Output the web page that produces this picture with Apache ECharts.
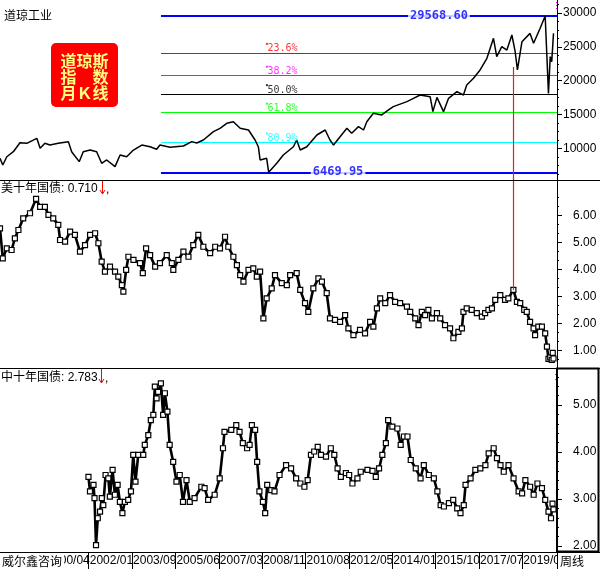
<!DOCTYPE html>
<html><head><meta charset="utf-8">
<script src="https://cdn.jsdelivr.net/npm/echarts@6/dist/echarts.min.js"></script>
<style>html,body{margin:0;padding:0;background:#fff}#c{width:600px;height:569px}</style>
</head><body><div id="c"></div>
<script>
// ---------- data ----------
const xTickLabels = ['1998/08','2000/04','2002/01','2003/09','2005/06','2007/03','2008/11','2010/08','2012/05','2014/01','2015/10','2017/07','2019/04'];
const dowTicks = [10000,15000,20000,25000,30000];
const usTicks = [1,2,3,4,5,6];
const cnTicks = [2,3,4,5];

const dowDates = [1998.55,1998.66,1998.82,1999.08,1999.34,1999.61,2000.01,2000.14,2000.33,2000.53,
2000.86,2001.26,2001.39,2001.69,2001.85,2002.12,2002.38,2002.58,2002.78,2003.11,
2003.31,2003.57,2003.84,2004.17,2004.50,2004.76,2004.89,2005.29,2005.82,2006.15,
2006.35,2006.61,2007.01,2007.27,2007.54,2007.80,2008.07,2008.40,2008.66,2008.79,
2008.86,2009.12,2009.20,2009.52,2009.78,2010.18,2010.31,2010.45,2010.71,2011.11,
2011.44,2011.63,2011.77,2012.03,2012.30,2012.49,2012.76,2012.96,2013.09,2013.35,
2013.68,2013.95,2014.14,2014.68,2014.94,2015.20,2015.60,2015.71,2015.87,2016.13,
2016.33,2016.66,2016.92,2017.05,2017.32,2017.58,2017.85,2018.11,2018.24,2018.44,
2018.64,2018.84,2018.97,2019.06,2019.24,2019.56,2019.70,2019.96,2020.16,2020.29,
2020.36,2020.42,2020.49];
const dowValues = [8540,7550,8770,9510,10840,10750,11490,10010,10750,10500,
10750,11000,9510,8040,9510,9760,9510,7800,8290,7300,
9020,8770,9760,10500,10250,9870,10500,10160,10350,11000,
10800,11240,12470,12970,13710,13950,12970,12720,11240,10250,
8290,8540,6470,7800,9020,10250,11240,9760,10250,11980,
12720,11240,10500,11730,12970,12230,13220,12720,13950,15190,
14940,15680,16170,16910,17400,17890,17650,15430,17540,15430,
17400,18380,17890,19370,20360,21590,23320,26270,23560,25030,
24540,26760,24290,21590,25770,27000,25530,27750,29568.6,18130,
23560,22820,27000];

const usDates = [1998.55,1998.66,1998.82,1999.01,1999.14,1999.28,1999.47,1999.74,1999.98,2000.14,
2000.33,2000.47,2000.66,2000.86,2000.93,2001.13,2001.33,2001.52,2001.72,2001.92,
2002.12,2002.32,2002.45,2002.58,2002.71,2002.91,2003.11,2003.24,2003.38,2003.44,
2003.55,2003.64,2003.84,2004.10,2004.21,2004.34,2004.50,2004.70,2004.89,2005.16,
2005.36,2005.42,2005.62,2005.82,2006.02,2006.21,2006.41,2006.61,2006.88,2007.08,
2007.27,2007.47,2007.60,2007.80,2007.94,2008.07,2008.20,2008.40,2008.59,2008.73,
2008.86,2008.99,2009.12,2009.32,2009.45,2009.72,2009.92,2010.05,2010.31,2010.45,
2010.64,2010.77,2010.97,2011.17,2011.31,2011.50,2011.63,2011.83,2012.03,2012.23,
2012.36,2012.56,2012.82,2013.02,2013.22,2013.35,2013.49,2013.62,2013.82,2014.01,
2014.21,2014.41,2014.68,2014.81,2015.01,2015.14,2015.27,2015.40,2015.53,2015.67,
2015.87,2016.00,2016.19,2016.39,2016.52,2016.72,2016.86,2016.92,2017.05,2017.25,
2017.45,2017.65,2017.78,2017.91,2018.05,2018.18,2018.38,2018.57,2018.70,2018.90,
2019.04,2019.17,2019.33,2019.43,2019.56,2019.70,2019.76,2019.89,2020.03,2020.16,
2020.23,2020.29,2020.36,2020.42,2020.46,2020.49];
const usValues = [5.53,4.42,4.79,4.73,5.16,5.47,5.90,6.09,6.62,6.33,
6.33,6.03,5.90,5.66,5.10,5.04,5.41,5.29,4.67,4.91,
5.29,5.35,4.98,4.30,3.93,4.11,3.93,3.74,3.43,3.19,
3.99,4.48,4.36,4.24,3.87,4.79,4.54,4.11,4.24,4.54,
4.24,3.99,4.36,4.67,4.48,4.91,5.29,4.85,4.61,4.85,
4.79,5.22,4.85,4.48,4.17,3.80,3.56,3.99,4.05,3.74,
3.93,2.20,2.94,3.31,3.80,3.50,3.43,3.80,3.87,3.25,
2.76,2.44,3.31,3.68,3.56,3.13,2.20,2.14,2.07,2.32,
1.83,1.58,1.77,1.64,2.07,1.89,2.57,2.94,2.76,3.06,
2.81,2.76,2.63,2.44,2.20,1.95,2.44,2.32,2.51,2.20,
2.39,2.20,1.95,1.83,1.46,1.70,1.83,2.44,2.57,2.51,
2.39,2.26,2.39,2.51,2.57,2.88,3.06,2.88,2.94,3.25,
2.81,2.76,2.51,2.44,2.07,1.83,1.58,1.89,1.89,1.64,
1.15,0.70,0.75,0.66,0.92,0.71];

const cnDates = [2001.99,2002.05,2002.19,2002.23,2002.29,2002.36,2002.45,2002.52,2002.58,2002.67,
2002.78,2002.84,2002.95,2003.04,2003.15,2003.24,2003.34,2003.44,2003.57,2003.68,
2003.77,2003.86,2003.97,2004.17,2004.23,2004.37,2004.47,2004.57,2004.63,2004.70,
2004.76,2004.87,2004.96,2005.03,2005.13,2005.22,2005.36,2005.49,2005.62,2005.75,
2005.89,2006.02,2006.21,2006.48,2006.61,2006.75,2007.01,2007.21,2007.34,2007.40,
2007.67,2007.87,2008.00,2008.13,2008.30,2008.40,2008.49,2008.62,2008.70,2008.79,
2008.93,2009.02,2009.10,2009.26,2009.39,2009.59,2009.85,2010.05,2010.25,2010.42,
2010.58,2010.71,2010.84,2010.97,2011.11,2011.24,2011.44,2011.63,2011.77,2011.90,
2012.03,2012.23,2012.36,2012.49,2012.69,2012.82,2013.09,2013.29,2013.42,2013.55,
2013.68,2013.82,2013.91,2014.08,2014.28,2014.41,2014.54,2014.68,2014.81,2015.01,
2015.20,2015.33,2015.53,2015.73,2015.87,2016.00,2016.13,2016.33,2016.50,2016.66,
2016.79,2016.92,2016.99,2017.19,2017.38,2017.58,2017.78,2017.91,2018.11,2018.24,
2018.38,2018.51,2018.70,2018.90,2019.10,2019.24,2019.37,2019.56,2019.70,2019.85,
2020.03,2020.16,2020.29,2020.39,2020.45,2020.49];
const cnValues = [3.47,3.16,3.30,3.02,2.02,2.59,2.73,3.02,2.87,3.51,
3.44,3.05,3.62,3.09,3.30,2.94,2.70,2.94,2.98,3.16,
3.94,3.37,3.94,3.94,4.15,4.36,4.68,4.79,5.39,5.14,
5.28,5.46,4.79,5.25,4.86,4.15,3.79,3.37,3.51,2.94,
3.40,2.94,3.02,3.26,3.23,2.98,3.09,3.44,4.08,4.43,
4.47,4.57,4.43,4.19,4.08,4.15,4.57,4.47,3.79,3.16,
2.94,2.70,3.30,3.19,3.16,3.51,3.72,3.65,3.44,3.33,
3.26,3.40,3.94,4.01,4.11,3.94,3.90,4.08,3.94,3.65,
3.47,3.55,3.51,3.33,3.44,3.58,3.62,3.60,3.47,3.65,
3.94,4.19,4.68,4.54,4.50,4.15,4.33,4.33,3.83,3.65,
3.44,3.72,3.51,3.44,3.16,2.87,2.84,2.91,2.98,2.80,
2.70,2.87,3.30,3.44,3.62,3.65,3.72,3.97,4.08,3.87,
3.72,3.58,3.72,3.44,3.16,3.12,3.40,3.26,3.09,3.33,
3.23,2.98,2.73,2.59,2.90,2.78];

const dowHigh = 29568.60, dowLow = 6469.95;
const fibRatios = [0.236, 0.382, 0.5, 0.618, 0.809];
const fibNames = ['23.6%','38.2%','50.0%','61.8%','80.9%'];
const fibColors = ['#ff0000','#ff00ff','#000000','#00ff00','#00ffff'];
const fibStartDate = 2004.93, fibLabelDate = 2009.13, highLabelDate = 2015.95, lowLabelDate = 2011.95;
const markerDate = 2018.90, markerDowTop = 22030, markerUsValue = 3.25;
const usLast = '0.710', cnLast = '2.783';

// ---------- axes setup ----------
const xMin = 1998.55, weekStep = 90 / 52.1775, xMax = xMin + 1152 / 52.1775;
const sans = '"Liberation Sans", Arial, "Noto Sans CJK SC", sans-serif';
const mono = '"DejaVu Sans Mono", monospace';
const pairs = (d, v) => d.map((x, i) => [x, v[i]]);
const fibVals = fibRatios.map(r => dowHigh - r * (dowHigh - dowLow));

const xFmt = v => {
  const i = Math.round((v - xMin) / weekStep);
  if (Math.abs(v - (xMin + i * weekStep)) > 0.01 || i >= xTickLabels.length) return '';
  return xTickLabels[i];
};

function yAx(grid, min, max, ticks, fmt, margin, minorSplit) {
  return {
    gridIndex: grid, type: 'value', position: 'right', min: min, max: max,
    splitLine: { show: false },
    axisLine: { show: true, lineStyle: { color: '#000', width: 1 } },
    axisTick: { show: true, length: 5, customValues: ticks, lineStyle: { color: '#000' } },
    minorTick: { show: true, splitNumber: minorSplit, length: 2, lineStyle: { color: '#000' } },
    axisLabel: { show: true, customValues: ticks, formatter: fmt, margin: margin,
      color: '#000', fontSize: 12, fontFamily: sans }
  };
}

const bondLine = { color: '#000', width: 2.6 };
const bondItem = { color: '#fff', borderColor: '#000', borderWidth: 1.2 };

const option = {
  animation: false,
  backgroundColor: '#fff',
  grid: [
    { left: 0, top: 0, width: 557, height: 180 },
    { left: 0, top: 180, width: 557, height: 188 },
    { left: 0, top: 368, width: 557, height: 184 }
  ],
  xAxis: [0, 1, 2].map(i => ({
    gridIndex: i, type: 'value', min: xMin, max: xMax, interval: weekStep,
    show: i === 2, splitLine: { show: false },
    axisLine: { show: true, lineStyle: { color: '#000', width: 1 } },
    axisTick: { show: true, length: 17, lineStyle: { color: '#000' } },
    axisLabel: { show: true, formatter: xFmt, align: 'left', margin: 3, padding: [0, 0, 0, 1],
      color: '#000', fontSize: 12, fontFamily: sans }
  })),
  yAxis: [
    yAx(0, 5330, 31933, dowTicks, v => String(v), 6, 4),
    yAx(1, 0.359, 7.322, usTicks, v => v.toFixed(2), 16, 3),
    yAx(2, 1.872, 5.787, cnTicks, v => v.toFixed(2), 16, 5)
  ],
  series: [
    {
      type: 'line', xAxisIndex: 0, yAxisIndex: 0, data: pairs(dowDates, dowValues),
      showSymbol: false, lineStyle: { color: '#000', width: 1.5 }, z: 5,
      markLine: {
        silent: true, symbol: ['none', 'none'], animation: false, label: { show: false },
        data: fibVals.map((v, i) => [
          { coord: [fibStartDate, v], lineStyle: { color: fibColors[i], width: 1, type: 'solid' } },
          { coord: [xMax, v] }
        ]).concat([
          [{ coord: [fibStartDate, dowHigh], lineStyle: { color: '#0000ff', width: 2, type: 'solid' } }, { coord: [xMax, dowHigh] }],
          [{ coord: [fibStartDate, dowLow], lineStyle: { color: '#0000ff', width: 2, type: 'solid' } }, { coord: [xMax, dowLow] }],
          [{ coord: [markerDate, markerDowTop], lineStyle: { color: '#e02020', width: 1.2, type: 'solid' } }, { coord: [markerDate, 5330] }]
        ])
      }
    },
    {
      type: 'scatter', xAxisIndex: 0, yAxisIndex: 0, symbol: 'rect', symbolSize: 2, symbolOffset: [0, -9],
      silent: true, z: 6,
      data: fibVals.map((v, i) => ({ value: [fibLabelDate, v], itemStyle: { color: fibColors[i] } }))
    },
    {
      type: 'scatter', xAxisIndex: 0, yAxisIndex: 0, symbol: 'rect', symbolSize: 1, silent: true, z: 6,
      itemStyle: { color: 'rgba(0,0,0,0)' },
      label: { show: true, position: 'right', distance: 0, offset: [0, -4], fontFamily: mono, fontSize: 10,
        formatter: p => p.data.name },
      data: fibVals.map((v, i) => ({ value: [fibLabelDate, v], name: fibNames[i], label: { color: fibColors[i] } }))
    },
    {
      type: 'scatter', xAxisIndex: 0, yAxisIndex: 0, symbol: 'rect', symbolSize: 1, silent: true, z: 7,
      itemStyle: { color: 'rgba(0,0,0,0)' },
      label: { show: true, position: 'inside', fontFamily: mono, fontSize: 12, fontWeight: 'bold',
        color: '#0000ff', backgroundColor: '#fff', padding: [1, 2], formatter: p => p.data.name },
      data: [
        { value: [highLabelDate, dowHigh], name: dowHigh.toFixed(2) },
        { value: [lowLabelDate, dowLow], name: dowLow.toFixed(2) }
      ]
    },
    {
      type: 'line', xAxisIndex: 1, yAxisIndex: 1, data: pairs(usDates, usValues),
      symbol: 'rect', symbolSize: 5, showSymbol: true, showAllSymbol: true,
      lineStyle: bondLine, itemStyle: bondItem,
      markLine: {
        silent: true, symbol: ['none', 'none'], label: { show: false },
        data: [[{ coord: [markerDate, 7.322], lineStyle: { color: '#e02020', width: 1.2, type: 'solid' } }, { coord: [markerDate, markerUsValue] }]]
      }
    },
    {
      type: 'line', xAxisIndex: 2, yAxisIndex: 2, data: pairs(cnDates, cnValues),
      symbol: 'rect', symbolSize: 5, showSymbol: true, showAllSymbol: true,
      lineStyle: bondLine, itemStyle: bondItem
    }
  ],
  graphic: [
    // panel borders
    { type: 'line', z: 50, shape: { x1: 0, y1: 180.5, x2: 600, y2: 180.5 }, style: { stroke: '#000', lineWidth: 1 } },
    { type: 'line', z: 50, shape: { x1: 0, y1: 368.5, x2: 600, y2: 368.5 }, style: { stroke: '#000', lineWidth: 1 } },
    { type: 'line', z: 50, shape: { x1: 0, y1: 552.5, x2: 600, y2: 552.5 }, style: { stroke: '#000', lineWidth: 1 } },
    { type: 'rect', z: 50, shape: { x: 557, y: 368.5, width: 41.5, height: 183 }, style: { fill: 'none', stroke: '#000', lineWidth: 2 } },
    // magenta markers
    { type: 'line', z: 50, shape: { x1: 556.5, y1: 2, x2: 556.5, y2: 9 }, style: { stroke: '#ff00ff', lineWidth: 1, lineDash: [1, 2] } },
    { type: 'line', z: 50, shape: { x1: 555.5, y1: 374, x2: 555.5, y2: 381 }, style: { stroke: '#ff00ff', lineWidth: 1, lineDash: [1, 4] } },
    // titles
    { type: 'text', z: 60, style: { x: 4, y: 15, text: '道琼工业', fill: '#000', font: '12px "Noto Sans CJK SC", sans-serif', textVerticalAlign: 'middle' } },
    { type: 'text', z: 60, style: { x: 1, y: 188.5, text: '美十年国债: ' + usLast, fill: '#000', font: '12px ' + sans, textVerticalAlign: 'middle' } },
    { type: 'text', z: 60, style: { x: 1, y: 377.5, text: '中十年国债: ' + cnLast, fill: '#000', font: '12px ' + sans, textVerticalAlign: 'middle' } },
    // red arrows
    { type: 'line', z: 60, shape: { x1: 102.5, y1: 181, x2: 102.5, y2: 194 }, style: { stroke: '#ff0000', lineWidth: 1 } },
    { type: 'polyline', z: 60, shape: { points: [[100, 190], [102.5, 194], [105, 190]] }, style: { stroke: '#ff0000', fill: 'none', lineWidth: 1 } },
    { type: 'text', z: 60, style: { x: 106, y: 190, text: ',', fill: '#000', font: '12px ' + sans, textVerticalAlign: 'middle' } },
    { type: 'line', z: 60, shape: { x1: 101.5, y1: 369, x2: 101.5, y2: 383 }, style: { stroke: '#ff0000', lineWidth: 1 } },
    { type: 'polyline', z: 60, shape: { points: [[99, 379], [101.5, 383], [104, 379]] }, style: { stroke: '#ff0000', fill: 'none', lineWidth: 1 } },
    { type: 'text', z: 60, style: { x: 105, y: 379, text: ',', fill: '#000', font: '12px ' + sans, textVerticalAlign: 'middle' } },
    // red badge
    { type: 'rect', z: 60, shape: { x: 51, y: 43, width: 67, height: 64, r: 5 }, style: { fill: '#ff0000' } },
    { type: 'text', z: 61, style: { x: 84.5, y: 60.5, text: '道琼斯', fill: '#ffff80', font: 'bold 16px "Noto Sans CJK SC", sans-serif', textAlign: 'center', textVerticalAlign: 'middle' } },
    { type: 'text', z: 61, style: { x: 84.5, y: 76.5, text: '指　数', fill: '#ffff80', font: 'bold 16px "Noto Sans CJK SC", sans-serif', textAlign: 'center', textVerticalAlign: 'middle' } },
    { type: 'text', z: 61, style: { x: 84.5, y: 92.5, text: '月Ｋ线', fill: '#ffff80', font: 'bold 16px "Noto Sans CJK SC", sans-serif', textAlign: 'center', textVerticalAlign: 'middle' } },
    // bottom strip texts
    { type: 'rect', z: 60, shape: { x: 0, y: 553, width: 64, height: 16 }, style: { fill: '#fff' } },
    { type: 'text', z: 61, style: { x: 2, y: 561, text: '威尔鑫咨询', fill: '#000', font: '12px "Noto Sans CJK SC", sans-serif', textVerticalAlign: 'middle' } },
    { type: 'rect', z: 60, shape: { x: 558, y: 553.5, width: 42, height: 16 }, style: { fill: '#fff' } },
    { type: 'text', z: 61, style: { x: 560, y: 561, text: '周线', fill: '#000', font: '12px "Noto Sans CJK SC", sans-serif', textVerticalAlign: 'middle' } }
  ]
};
const chart = echarts.init(document.getElementById('c'));
chart.setOption(option);
</script>
</body></html>
